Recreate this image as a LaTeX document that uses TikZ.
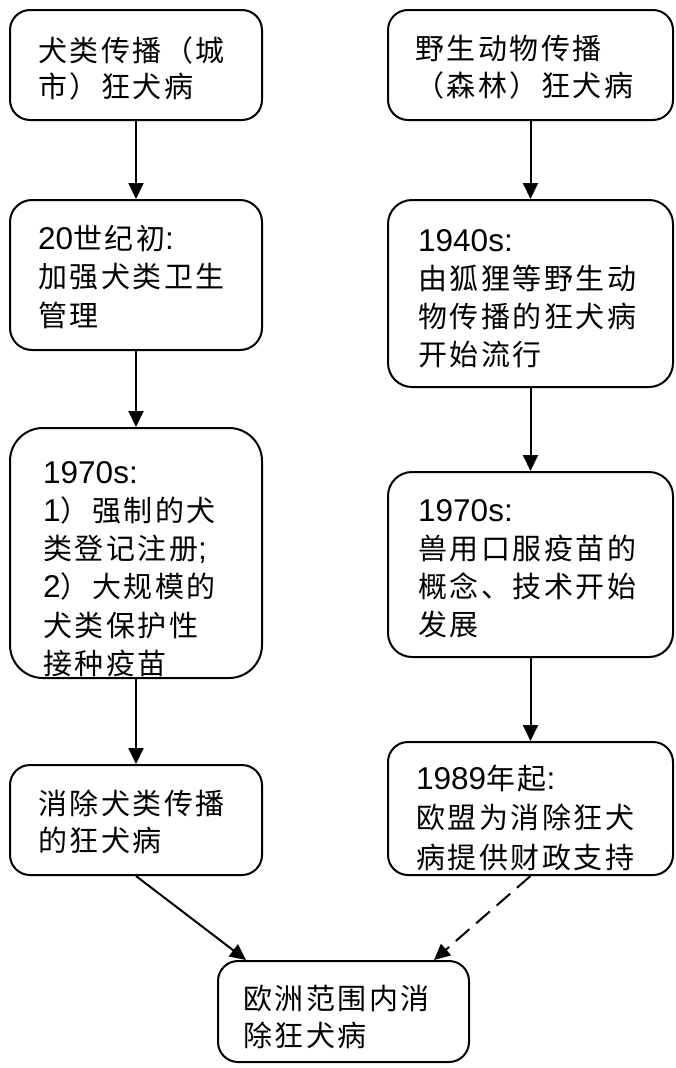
\documentclass[tikz,border=0pt]{standalone}
\usepackage{fontspec}
\setmainfont{Liberation Sans}
\newfontfamily\cjkfont{Noto Sans CJK SC}[Scale=0.92,LetterSpace=8.6]
\newcommand\zh[1]{{\cjkfont #1}}
\usetikzlibrary{arrows.meta}
\tikzset{
  rbox/.style={draw=black, line width=2pt, rounded corners=#1, inner sep=0pt, fill=white},
  txt/.style={inner sep=0pt, text width=290pt, align=left, anchor=base west,
    font=\fontsize{31.5pt}{#1}\selectfont},
  conn/.style={line width=2pt, -{Triangle[length=16pt,width=15pt]}},
  dconn/.style={conn, dash pattern=on 18pt off 9pt},
}
\begin{document}
\begin{tikzpicture}[x=1pt,y=-1pt]
\useasboundingbox (0,0) rectangle (675,1068);
\fill[white] (0,0) rectangle (675,1068);
% boxes
\node[rbox=20pt, minimum width=252pt, minimum height=110pt] (L1) at (136,65) {};
\node[rbox=22pt, minimum width=252pt, minimum height=150pt] (L2) at (136,275) {};
\node[rbox=33pt, minimum width=252pt, minimum height=250pt] (L3) at (136,553) {};
\node[rbox=20pt, minimum width=252pt, minimum height=110pt] (L4) at (136,820) {};
\node[rbox=20pt, minimum width=285pt, minimum height=110pt] (R1) at (530.5,65) {};
\node[rbox=24pt, minimum width=285pt, minimum height=187pt] (R2) at (530.5,293.5) {};
\node[rbox=24pt, minimum width=285pt, minimum height=185pt] (R3) at (530.5,564.5) {};
\node[rbox=20pt, minimum width=285pt, minimum height=133pt] (R4) at (530.5,808.5) {};
\node[rbox=20pt, minimum width=251pt, minimum height=101pt] (B) at (343.5,1011.5) {};
% texts
\node[txt=36pt] (tL1) at (38,61) {\zh{犬类传播（城}\\\zh{市）狂犬病}};
\node[txt=38.5pt] (tL2) at (38,249) {20\zh{世纪初}:\\\zh{加强犬类卫生}\\\zh{管理}};
\node[txt=38.3pt] (tL3) at (43,483) {1970s:\\1\zh{）强制的犬}\\\zh{类登记注册};\\2\zh{）大规模的}\\\zh{犬类保护性}\\\zh{接种疫苗}};
\node[txt=37pt] (tL4) at (38,814) {\zh{消除犬类传播}\\\zh{的狂犬病}};
\node[txt=37pt] (tR1) at (415,59) {\zh{野生动物传播}\\\zh{（森林）狂犬病}};
\node[txt=38.3pt] (tR2) at (418,251) {1940s:\\\zh{由狐狸等野生动}\\\zh{物传播的狂犬病}\\\zh{开始流行}};
\node[txt=38.3pt] (tR3) at (418,521) {1970s:\\\zh{兽用口服疫苗的}\\\zh{概念、技术开始}\\\zh{发展}};
\node[txt=39.5pt] (tR4) at (416,789) {1989\zh{年起}:\\\zh{欧盟为消除狂犬}\\\zh{病提供财政支持}};
\node[txt=37pt] (tB) at (243,1009) {\zh{欧洲范围内消}\\\zh{除狂犬病}};
% connectors
\draw[conn] (L1) -- (L2);
\draw[conn] (L2) -- (L3);
\draw[conn] (L3) -- (L4);
\draw[conn] (R1) -- (R2);
\draw[conn] (R2) -- (R3);
\draw[conn] (R3) -- (R4);
\draw[conn] (L4.south) -- ([xshift=29pt]B.north west);
\draw[dconn] (R4.south) -- ([xshift=-36pt]B.north east);
\end{tikzpicture}
\end{document}
